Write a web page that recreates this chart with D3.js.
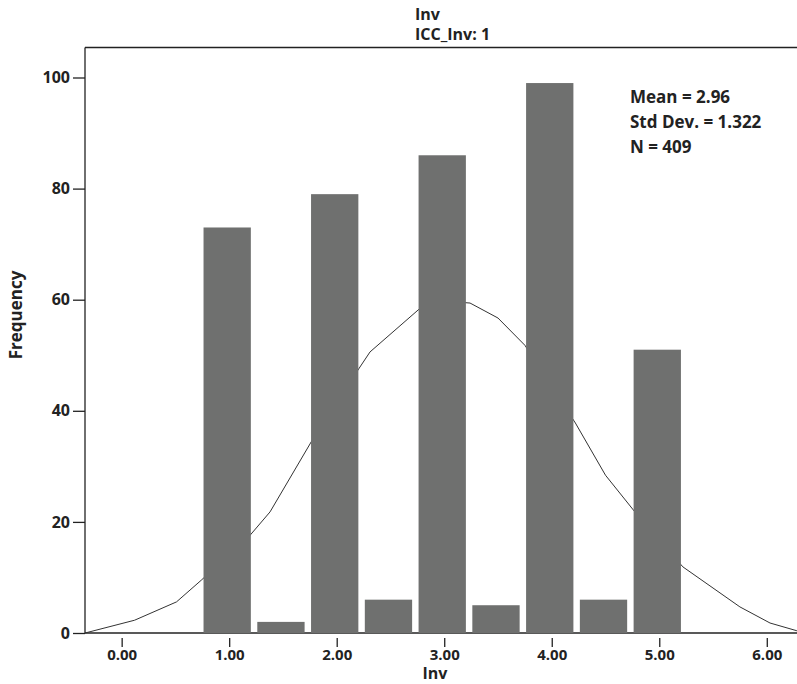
<!DOCTYPE html>
<html>
<head>
<meta charset="utf-8">
<script src="https://cdn.jsdelivr.net/npm/d3@7"></script>
<style>
body { margin: 0; background: #fff; }
text { font-family: "Open Sans", "Noto Sans", sans-serif; font-weight: bold; fill: #222; }
</style>
</head>
<body>
<div id="chart"></div>
<script>
// histogram bins (midpoints) and counts
var binCenters = [1, 1.5, 2, 2.5, 3, 3.5, 4, 4.5, 5];
var frequencies = [73, 2, 79, 6, 86, 5, 99, 6, 51];

// normal curve
var curveX = [-0.34, 0.12, 0.51, 0.74, 1.19, 1.38, 1.79, 2.21, 2.31, 2.79, 2.96, 3.24, 3.50, 3.75, 4.22, 4.50, 4.79, 5.22, 5.75, 6.03, 6.28];
var curveY = [0, 2.3, 5.6, 9.5, 17.5, 21.8, 35.3, 47.7, 50.6, 58.7, 59.8, 59.4, 56.7, 51.8, 37.8, 28.4, 21.4, 11.9, 4.7, 1.8, 0.4];

var xTicks = [0, 1, 2, 3, 4, 5, 6];
var yTicks = [0, 20, 40, 60, 80, 100];
var titleLines = ["Inv", "ICC_Inv: 1"];
var statLines = ["Mean = 2.96", "Std Dev. = 1.322", "N = 409"];

var W = 797, H = 684;
var svg = d3.select('#chart').append('svg')
	.attr('width', W)
	.attr('height', H);

var x = d3.scaleLinear().domain([-0.341, 6.281]).range([85, 797]);
var y = d3.scaleLinear().domain([0, 100]).range([633, 77.5]);

// frame: top line + left axis line
svg.append('line')
	.attr('x1', 85).attr('x2', W).attr('y1', 47.5).attr('y2', 47.5)
	.style('stroke', '#222').style('stroke-width', 1.3);
svg.append('line')
	.attr('x1', 85).attr('x2', 85).attr('y1', 47.5).attr('y2', 633)
	.style('stroke', '#222').style('stroke-width', 1.3);

// title
svg.selectAll('.title')
	.data(titleLines)
	.enter().append('text')
	.attr('class', 'title')
	.attr('x', 415)
	.attr('y', (d, i) => 20 + i * 20)
	.style('font-size', '16px')
	.text(d => d);

// baseline
svg.append('line')
	.attr('x1', 85).attr('x2', W).attr('y1', y(0)).attr('y2', y(0))
	.style('stroke', '#222').style('stroke-width', 1.3);

// normal curve sits behind bars
var pts = curveX.map((v, i) => [v, curveY[i]]);
svg.append('path')
	.datum(pts)
	.attr('d', d3.line().x(d => x(d[0])).y(d => y(d[1])))
	.style('fill', 'none')
	.style('stroke', '#333')
	.style('stroke-width', 1);

var bw = 0.44;
svg.selectAll('.bar')
	.data(binCenters)
	.enter().append('rect')
	.attr('class', 'bar')
	.attr('x', d => x(d - bw / 2) - 2)
	.attr('width', x(bw) - x(0))
	.attr('y', (d, i) => y(frequencies[i]))
	.attr('height', (d, i) => y(0) - y(frequencies[i]))
	.style('fill', '#6f706f');

// y axis
var yAxis = svg.append('g')
	.attr('transform', 'translate(85,0)')
	.call(d3.axisLeft(y).tickValues(yTicks).tickSize(12).tickPadding(3).tickFormat(d3.format('d')));
yAxis.select('.domain').remove();
yAxis.selectAll('line').style('stroke', '#222').style('stroke-width', 1.3);
yAxis.selectAll('text').style('font-size', '16px').style('font-family', '"Open Sans", sans-serif').style('font-weight', 'bold').attr('fill', '#222');

// x axis, ticks detached a little below the baseline
var xAxis = svg.append('g')
	.attr('transform', 'translate(0,' + y(0) + ')')
	.call(d3.axisBottom(x).tickValues(xTicks).tickSize(14).tickPadding(2).tickFormat(d3.format('.2f')));
xAxis.select('.domain').remove();
xAxis.selectAll('line').attr('y1', 5).style('stroke', '#222').style('stroke-width', 1.3);
xAxis.selectAll('text').style('font-size', '15px').style('font-family', '"Open Sans", sans-serif').style('font-weight', 'bold').attr('fill', '#222');

// axis titles
svg.append('text')
	.attr('x', 435)
	.attr('y', 679)
	.attr('text-anchor', 'middle')
	.style('font-size', '16px')
	.text('Inv');
svg.append('text')
	.attr('transform', 'translate(22,315) rotate(-90)')
	.attr('text-anchor', 'middle')
	.style('font-size', '17px')
	.text('Frequency');

// stats box
svg.selectAll('.stat')
	.data(statLines)
	.enter().append('text')
	.attr('class', 'stat')
	.attr('x', 630)
	.attr('y', (d, i) => 103 + i * 25)
	.style('font-size', '17px')
	.text(d => d);
</script>
</body>
</html>
